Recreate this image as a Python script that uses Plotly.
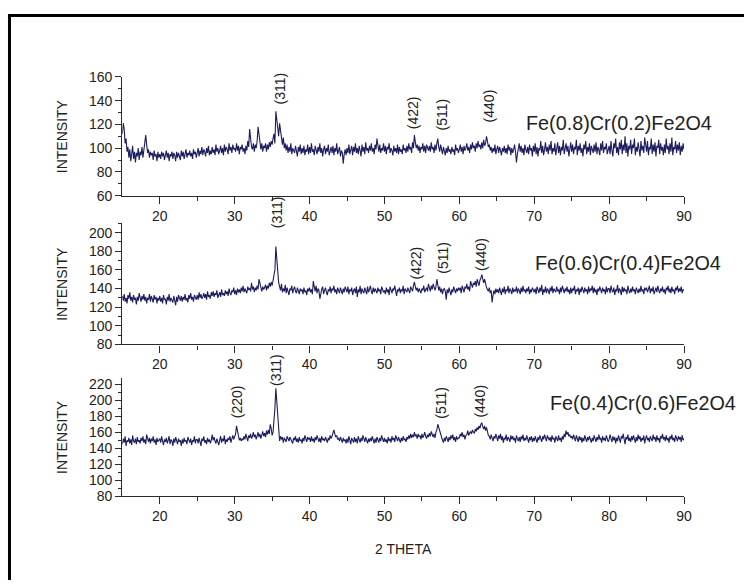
import numpy as np
import plotly.graph_objects as go

W, H = 752, 588
# measured capture transform of the rendered page: x' = SX*x, y' = Y0 + SY*y
SX = 752.0 / 759.0
SY, Y0 = 0.9745, 7.0

# 2-theta scan grid (degrees), step 0.125
STEP = 0.125
# Fe(0.8)Cr(0.2)Fe2O4 intensities, one row per degree (15 .. 89) + last point at 90
int_08 = [
    112,121,116,104,108,97,101,92,
    99,89,95,102,91,97,88,96,
    93,100,90,97,94,101,92,98,
    104,111,103,96,99,92,97,94,
    96,90,98,93,95,89,97,92,
    95,91,97,93,96,90,94,98,
    92,96,89,95,93,97,91,96,
    94,89,97,92,96,93,90,98,
    93,97,91,95,99,92,96,94,
    98,93,96,91,99,95,97,92,
    96,100,93,98,95,101,94,99,
    97,93,100,96,102,94,98,95,
    101,96,99,94,103,97,100,95,
    98,102,96,100,94,103,97,101,
    99,95,104,98,101,96,103,99,
    100,97,104,98,102,95,101,99,
    103,97,100,95,102,98,106,101,
    116,108,101,99,104,97,103,100,
    106,118,110,102,99,104,97,102,
    100,104,97,103,99,105,101,106,
    103,108,112,104,131,124,115,110,
    121,114,107,103,109,100,104,98,
    103,96,101,97,104,95,100,98,
    96,102,98,93,101,97,103,95,
    100,96,102,94,99,97,103,95,
    101,96,104,97,99,94,102,98,
    95,101,97,104,96,100,93,99,
    102,95,100,97,103,94,99,101,
    96,102,94,100,97,104,95,99,
    101,93,98,96,87,95,99,94,
    100,96,103,95,99,102,94,101,
    97,104,96,100,95,102,98,93,
    103,97,101,95,105,98,100,96,
    102,98,104,97,100,95,103,99,
    108,101,97,103,96,100,98,104,
    97,102,95,101,99,104,96,100,
    98,94,102,97,100,96,103,95,
    101,97,99,95,103,98,100,96,
    102,97,104,99,101,96,105,100,
    111,105,100,103,98,102,96,101,
    99,104,97,102,96,103,100,98,
    102,97,105,99,101,96,103,98,
    104,108,101,97,103,99,95,101,
    98,94,100,96,102,97,99,95,
    101,97,99,94,103,98,100,96,
    99,103,97,101,95,102,98,100,
    104,98,101,96,103,99,105,100,
    102,97,104,100,106,101,103,99,
    105,100,107,102,104,110,106,101,
    103,98,101,96,100,97,103,95,
    99,102,96,101,98,94,100,97,
    102,96,100,95,103,98,101,94,
    100,96,99,103,97,88,95,101,
    104,97,102,96,100,94,103,99,
    96,101,95,103,98,100,93,102,
    97,104,95,101,93,100,98,106,
    96,102,94,99,105,97,101,95,
    103,98,106,95,100,97,104,94,
    99,105,96,102,94,101,98,107,
    95,100,104,97,102,93,99,105,
    97,103,95,101,99,107,94,102,
    98,104,96,100,93,103,99,106,
    95,101,97,104,94,102,99,96,
    103,97,105,95,101,99,94,104,
    98,106,96,101,99,104,95,100,
    102,95,106,98,93,104,100,108,
    96,101,94,105,99,107,95,103,
    98,110,96,104,93,102,99,107,
    95,103,100,108,94,101,97,105,
    99,93,106,98,102,96,109,100,
    97,106,94,101,99,108,95,103,
    97,105,93,102,100,107,95,104,
    98,101,94,103,96,108,99,102,
    95,104,97,109,94,101,99,106,
    96,103,98,105,94,102,97,104,
    99,
]

# Fe(0.6)Cr(0.4)Fe2O4 intensities
int_06 = [
    132,127,134,126,130,124,133,129,
    136,127,131,125,133,128,130,123,
    131,127,135,129,126,132,128,134,
    127,131,124,130,128,134,126,132,
    129,125,133,128,131,124,130,127,
    132,126,130,124,133,128,129,123,
    131,127,134,126,130,128,125,132,
    128,122,131,126,133,129,127,132,
    126,131,128,134,127,130,125,133,
    129,135,128,131,126,133,130,128,
    133,128,136,130,134,129,131,135,
    130,134,128,137,131,133,129,136,
    132,137,131,135,133,138,130,134,
    136,131,139,133,135,132,138,134,
    137,132,140,135,133,138,136,141,
    134,138,133,140,136,139,135,141,
    137,143,136,140,138,135,142,139,
    140,137,146,139,142,136,141,138,
    143,139,150,145,140,137,142,139,
    141,144,138,143,140,146,142,147,
    143,148,152,160,185,170,155,146,
    142,138,145,136,140,137,144,135,
    141,137,133,140,138,143,135,139,
    142,137,135,141,138,134,140,137,
    139,134,141,136,138,133,140,137,
    141,136,139,134,148,140,137,143,
    135,140,138,129,136,139,142,134,
    138,141,136,133,139,137,142,135,
    140,138,143,136,139,134,141,137,
    135,141,138,134,140,136,142,137,
    136,142,134,139,137,141,133,138,
    140,135,142,131,139,136,143,134,
    140,137,135,141,138,134,142,136,
    139,143,137,134,141,136,140,138,
    135,141,137,139,134,142,138,136,
    138,134,141,136,139,133,142,137,
    135,140,138,143,136,132,139,137,
    141,135,139,137,143,134,140,138,
    136,141,138,135,142,139,137,143,
    147,142,138,141,136,140,137,135,
    140,138,143,136,139,141,137,145,
    141,137,143,139,145,140,138,142,
    150,144,138,142,136,140,134,139,
    140,137,128,139,135,141,137,133,
    139,136,142,138,135,140,137,141,
    138,141,135,143,139,136,142,140,
    145,139,142,137,148,143,141,146,
    144,148,142,150,146,143,149,151,
    155,148,146,150,143,141,139,137,
    141,135,138,125,133,138,134,140,
    136,139,135,141,137,133,140,136,
    142,134,139,137,143,135,140,138,
    134,141,136,139,137,142,135,140,
    138,134,141,136,143,137,139,135,
    140,137,142,134,139,136,141,138,
    136,140,134,142,138,135,141,137,
    144,133,139,136,142,135,140,138,
    134,141,137,143,135,140,138,136,
    142,137,139,134,141,136,143,138,
    135,140,137,142,136,139,134,141,
    135,140,138,143,134,139,137,141,
    133,140,136,142,138,135,141,137,
    139,134,142,136,140,138,143,135,
    141,136,139,133,140,137,142,138,
    135,141,137,139,134,142,136,140,
    140,135,143,138,136,141,133,139,
    137,144,135,140,138,133,142,136,
    141,137,139,134,143,138,135,140,
    136,142,137,139,134,141,138,135,
    140,136,143,137,139,134,141,138,
    141,136,139,143,135,140,137,142,
    134,139,141,136,143,138,135,140,
    137,142,136,139,134,141,138,143,
    136,140,135,142,137,139,134,141,
    138,143,136,140,137,142,135,139,
    138,
]

# Fe(0.4)Cr(0.6)Fe2O4 intensities
int_04 = [
    145,152,147,155,143,150,148,153,
    146,151,144,156,149,147,152,145,
    154,148,150,146,153,149,155,147,
    151,145,157,150,148,153,146,152,
    149,155,147,151,144,153,148,150,
    152,147,155,149,144,151,148,153,
    146,150,155,145,151,149,143,152,
    147,154,149,145,152,148,150,143,
    151,146,153,148,150,145,154,149,
    147,152,144,150,148,155,146,151,
    151,146,153,148,143,152,149,155,
    147,150,145,153,148,151,146,150,
    157,150,154,149,146,152,148,144,
    150,155,147,152,149,156,145,151,
    148,153,150,155,147,152,156,151,
    154,158,168,163,156,150,153,149,
    152,150,155,151,158,153,149,156,
    153,158,152,155,160,154,157,151,
    156,160,154,158,152,157,161,155,
    159,154,162,157,163,158,170,165,
    156,160,172,190,215,198,172,156,
    149,155,151,154,147,153,150,148,
    155,152,149,154,151,150,146,153,
    150,155,148,152,147,154,149,151,
    146,153,149,156,150,148,154,151,
    153,148,155,149,152,147,154,150,
    156,151,148,153,147,155,150,152,
    149,154,151,147,153,150,156,152,
    155,160,163,158,154,156,151,153,
    149,154,150,147,153,149,151,146,
    152,147,155,149,145,153,150,147,
    154,148,152,146,155,150,147,153,
    149,156,151,148,154,150,146,152,
    148,153,149,155,150,146,152,147,
    154,150,147,153,149,156,151,148,
    153,148,151,146,154,149,152,147,
    155,150,153,148,156,152,149,154,
    151,147,153,149,155,150,152,148,
    154,151,156,152,158,153,157,154,
    160,155,157,152,158,154,156,151,
    158,153,156,160,155,152,157,154,
    159,155,161,157,154,158,153,160,
    163,170,166,160,155,152,150,147,
    153,149,155,152,148,154,150,156,
    152,157,150,154,148,155,151,153,
    153,158,155,160,154,157,151,156,
    157,162,156,159,161,158,163,160,
    159,164,161,166,163,168,165,170,
    172,167,164,168,162,166,160,156,
    155,151,157,153,149,155,152,158,
    154,149,156,152,158,150,155,147,
    153,151,157,149,154,152,148,156,
    151,155,150,153,147,156,152,149,
    154,148,155,151,157,149,153,150,
    156,152,147,154,150,155,148,153,
    149,155,151,147,154,150,156,152,
    148,155,151,157,153,149,156,152,
    150,154,148,156,151,153,147,155,
    152,149,156,150,153,148,155,151,
    158,154,162,157,160,155,157,153,
    155,151,157,153,149,156,152,148,
    155,150,154,147,153,149,156,151,
    148,154,150,155,151,147,153,149,
    156,152,148,154,150,157,151,153,
    147,155,150,153,149,156,152,148,
    151,157,152,148,155,150,154,146,
    153,149,156,151,147,155,152,158,
    150,145,154,151,157,149,153,148,
    155,150,156,152,147,154,149,157,
    151,155,148,153,150,156,146,152,
    156,150,153,148,155,152,149,157,
    151,154,148,156,150,153,147,155,
    152,158,151,154,149,156,150,153,
    147,155,151,157,150,153,148,156,
    152,149,155,151,154,148,156,150,
    152,
]

sample_names = ["Fe(0.8)Cr(0.2)Fe2O4", "Fe(0.6)Cr(0.4)Fe2O4", "Fe(0.4)Cr(0.6)Fe2O4"]
series = [int_08, int_06, int_04]
y_ranges = [[60, 160], [80, 210], [80, 228]]

# peak labels: (hkl, 2theta position)
peaks_08 = [("(311)", 36.0), ("(422)", 53.8), ("(511)", 57.7), ("(440)", 63.9)]
peaks_06 = [("(311)", 35.6), ("(422)", 54.2), ("(511)", 57.7), ("(440)", 62.8)]
peaks_04 = [("(220)", 30.3), ("(311)", 35.6), ("(511)", 57.6), ("(440)", 62.8)]
peak_sets = [peaks_08, peaks_06, peaks_04]

x_ticks = [20, 30, 40, 50, 60, 70, 80, 90]
x_minor = [25, 35, 45, 55, 65, 75, 85]

# ---- layout geometry (target pixels in the 752x588 picture) ----
x_left_px, x_right_px = 122.5, 685.0
panel_px = [(76.0, 195.0), (222.7, 344.0), (377.6, 496.0)]  # (top, bottom)
peak_label_y_px = [[88, 111.5, 113.5, 105], [212, 262, 257, 254], [401, 370, 402, 401]]
title_y_px = [122, 262, 403]
title_x = [68.7, 69.9, 71.9]


def px_x(p):
    return min((p / SX) / W, 1.0)


def px_y(p):
    return max(min(1 - ((p - Y0) / SY) / H, 1.0), 0.0)


FONT = "Arial, Liberation Sans, sans-serif"
LINE = "#1c1c5e"
AX = "#2a2a2a"

fig = go.Figure()
annotations = []
for i, (name, vals, yr) in enumerate(zip(sample_names, series, y_ranges)):
    two_theta = 15.0 + STEP * np.arange(len(vals))
    k = "" if i == 0 else str(i + 1)
    fig.add_trace(go.Scatter(
        x=two_theta, y=vals, mode="lines",
        line=dict(color=LINE, width=1.1),
        xaxis="x" + k, yaxis="y" + k, showlegend=False, hoverinfo="skip"))
    top, bot = panel_px[i]
    fig.layout["xaxis" + k] = dict(
        domain=[px_x(x_left_px), px_x(x_right_px)], range=[15, 90], anchor="y" + k,
        tickvals=x_ticks, ticks="outside", ticklen=7, tickwidth=1.3, tickcolor=AX,
        minor=dict(tickvals=x_minor, ticks="outside",
                   ticklen=4, tickwidth=1.2, tickcolor=AX),
        showline=True, linecolor=AX, linewidth=1.4, showgrid=False, zeroline=False,
        tickfont=dict(family=FONT, size=14, color="#222"))
    fig.layout["yaxis" + k] = dict(
        domain=[px_y(bot), px_y(top)], range=yr, anchor="x" + k,
        tick0=yr[0], dtick=20, ticks="outside", ticklen=6, tickwidth=1.3, tickcolor=AX,
        minor=dict(dtick=10, tick0=yr[0], ticks="outside", ticklen=3, tickwidth=1.2, tickcolor=AX),
        showline=True, linecolor=AX, linewidth=1.4, showgrid=False, zeroline=False,
        tickfont=dict(family=FONT, size=14, color="#222"))
    annotations.append(dict(
        text="INTENSITY", xref="paper", yref="paper", x=px_x(62), y=px_y((top + bot) / 2),
        textangle=-90, showarrow=False, xanchor="center", yanchor="middle",
        font=dict(family=FONT, size=14, color="#222")))
    annotations.append(dict(
        text=name, xref="x" + k, yref="paper", x=title_x[i], y=px_y(title_y_px[i]),
        showarrow=False, xanchor="left", yanchor="middle",
        font=dict(family=FONT, size=19.8, color="#222")))
    for (lab, pos), ypx in zip(peak_sets[i], peak_label_y_px[i]):
        annotations.append(dict(
            text=lab, xref="x" + k, yref="paper", x=pos, y=px_y(ypx),
            textangle=-90, showarrow=False, xanchor="center", yanchor="middle",
            font=dict(family=FONT, size=14, color="#222")))

annotations.append(dict(
    text="2 THETA", xref="paper", yref="paper", x=px_x((x_left_px + x_right_px) / 2), y=px_y(549),
    showarrow=False, xanchor="center", yanchor="middle",
    font=dict(family=FONT, size=14, color="#222")))

# frame: only the top and left edges are visible in the picture
frame = [
    dict(type="line", xref="paper", yref="paper", x0=px_x(8), x1=1.0, y0=px_y(14.5), y1=px_y(14.5),
         line=dict(color="black", width=3)),
    dict(type="line", xref="paper", yref="paper", x0=px_x(9.5), x1=px_x(9.5), y0=0.0, y1=px_y(13),
         line=dict(color="black", width=3)),
]

fig.update_layout(
    width=W, height=H, margin=dict(l=0, r=0, t=0, b=0),
    paper_bgcolor="white", plot_bgcolor="white",
    annotations=annotations,
    shapes=frame,
)

fig.write_html("out.html", config={"displayModeBar": False},
               post_script="document.body.style.margin='0';document.body.style.overflow='hidden';")
